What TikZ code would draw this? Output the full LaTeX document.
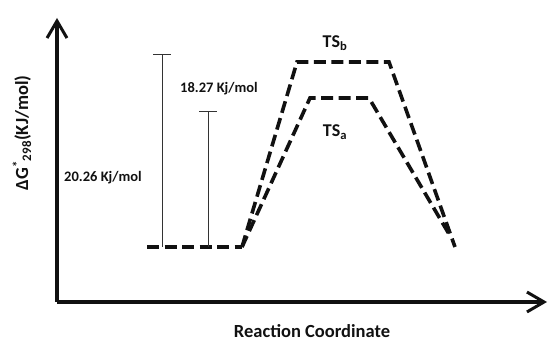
\documentclass[tikz,border=0pt]{standalone}
\usepackage{fontspec}
\setmainfont{Carlito}
\usepackage{tikz}
\usetikzlibrary{positioning, arrows.meta, calc}
\definecolor{inkBlack}{HTML}{111111}
\definecolor{barGrey}{HTML}{333333}

\begin{document}
\begin{tikzpicture}[
        x=1pt, y=1pt,
        every node/.style={font=\fontsize{14.5}{16}\selectfont\bfseries, text=inkBlack},
        axisline/.style={-{Straight Barb[length=6mm, width=7mm, line width=3pt]},
                         inkBlack, line width=3.6pt},
        pathline/.style={inkBlack, line width=3.6pt, dash pattern=on 12pt off 5.5pt},
        errbar/.style={barGrey, line width=1pt},
        tslabel/.style={font=\fontsize{18}{20}\selectfont\bfseries},
        axislabel/.style={font=\fontsize{18.5}{20}\selectfont\bfseries},
      ]
        \useasboundingbox (0,0) rectangle (550,342);

        % Axes
        \coordinate (orig) at (57,40);
        \coordinate (ytop) at (57,324);
        \coordinate (xend) at (547,40);
        \draw[axisline] (orig) -- (ytop);
        \draw[axisline] (orig) -- (xend);
        \node[axislabel] (xlab) at (312,11) {Reaction Coordinate};
        \node[axislabel, rotate=90] (ylab) at (22,209)
            {ΔG\textsuperscript{*}\textsubscript{298}(KJ/mol)};

        % Reactant level
        \coordinate (r_start) at (147,95);
        \coordinate (r_end) at (242,95);
        \draw[pathline] (r_start) -- (r_end);

        % Path through TS_b
        \coordinate (b_up) at (297,280);
        \coordinate (b_top) at (389,280);
        \coordinate (b_end) at (455,95);
        \draw[pathline] (r_end) -- (b_up) -- (b_top) -- (b_end);
        \node[tslabel] (tsb) at (335,299) {TS\textsubscript{b}};

        % Path through TS_a
        \coordinate (a_up) at (310,244);
        \coordinate (a_top) at (369,244);
        \coordinate (a_end) at (449,108);
        \draw[pathline] (r_end) -- (a_up) -- (a_top) -- (a_end);
        \node[tslabel] (tsa) at (335,210) {TS\textsubscript{a}};

        % Barrier heights
        \coordinate (bar1_lo) at (162,95);
        \coordinate (bar1_hi) at (162,287);
        \coordinate (bar2_lo) at (208,95);
        \coordinate (bar2_hi) at (208,230);
        \draw[errbar] (bar1_lo) -- (bar1_hi);
        \draw[errbar] ($(bar1_hi)+(-9,0)$) -- ($(bar1_hi)+(9,0)$);
        \draw[errbar] (bar2_lo) -- (bar2_hi);
        \draw[errbar] ($(bar2_hi)+(-9,0)$) -- ($(bar2_hi)+(9,0)$);
        \node (e1) at (103,164) {20.26 Kj/mol};
        \node (e2) at (219,253) {18.27 Kj/mol};
      \end{tikzpicture}
\end{document}
